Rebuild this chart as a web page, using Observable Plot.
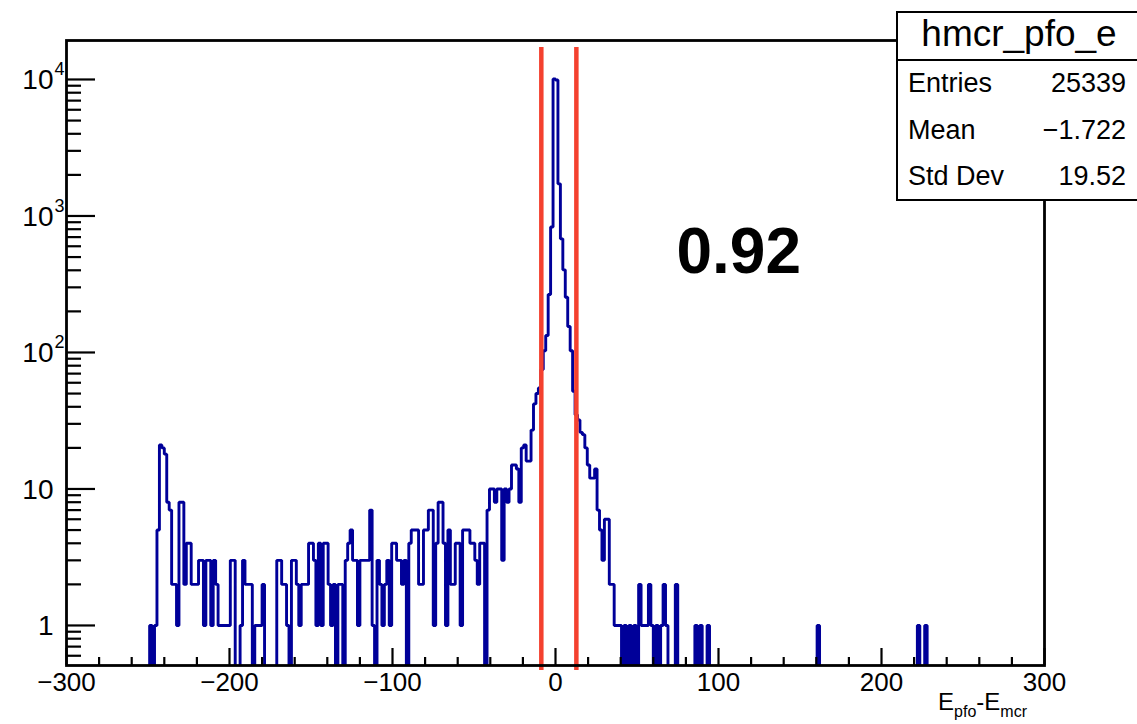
<!DOCTYPE html>
<html>
<head>
<meta charset="utf-8">
<script src="https://cdn.jsdelivr.net/npm/d3@7"></script>
<script src="https://cdn.jsdelivr.net/npm/@observablehq/plot@0.6"></script>
<style>
  html, body { margin: 0; padding: 0; background: #fff; }
  #wrap { position: relative; width: 1137px; height: 724px; overflow: hidden;
          font-family: "Liberation Sans", Arial, Helvetica, sans-serif; color: #000; }
  #chart svg { display: block; }
  .box { position: absolute; left: 896px; top: 11px; width: 260px; height: 190px;
         border: 2.5px solid #000; box-sizing: border-box; background: #fff; }
  .sep { position: absolute; left: 896px; top: 59px; width: 260px; border-top: 2.5px solid #000; }
  .st { position: absolute; line-height: 1; white-space: nowrap; }
  .xtitle { position: absolute; right: 110px; top: 690px; font-size: 24px; line-height: 1; white-space: nowrap; }
  .xtitle sub { font-size: 16px; vertical-align: -7px; line-height: 0; }
</style>
</head>
<body>
<div id="wrap">
  <div id="chart"></div>
</div>
<script>
// ---------------- data ----------------
const xMin = -300, xMax = 300;
const binWidth = 1.5;
const firstBinLow = -250.5;
// counts per bin, starting at firstBinLow, bin width 1.5
const counts = [
  0, 1, 0, 1, 5, 21, 20, 18, 8, 7,          // -250.5 .. -237
  2, 2, 1, 8, 8, 2, 4, 4, 2, 2,             // -235.5 .. -222
  2, 3, 3, 1, 3, 3, 1, 3, 2, 1,             // -220.5 .. -207
  1, 1, 1, 1, 3, 3, 0, 0, 1, 3,             // -205.5 .. -192
  2, 2, 2, 0, 1, 1, 1, 2, 0, 0,             // -190.5 .. -177
  0, 0, 0, 3, 3, 2, 2, 1, 0, 3,             // -175.5 .. -162
  3, 2, 1, 2, 2, 2, 4, 4, 3, 1,             // -160.5 .. -147
  4, 1, 4, 4, 2, 1, 2, 0, 2, 2,             // -145.5 .. -132
  0, 3, 4, 5, 3, 3, 1, 3, 3, 3,             // -130.5 .. -117
  3, 7, 1, 0, 3, 2, 1, 2, 3, 1,             // -115.5 .. -102
  4, 4, 3, 3, 2, 3, 0, 4, 5, 5,             // -100.5 .. -87
  5, 2, 2, 5, 5, 7, 7, 1, 4, 8,             // -85.5 .. -72
  8, 4, 1, 5, 2, 2, 4, 4, 1, 5,             // -70.5 .. -57
  5, 5, 4, 4, 3, 2, 4, 4, 0, 7,             // -55.5 .. -42
  10, 10, 8, 10, 10, 3, 10, 8, 10, 15,      // -40.5 .. -27
  15, 14, 8, 20, 21, 16, 16, 27, 42, 50,    // -25.5 .. -12
  55, 75, 103, 133, 266, 830, 10100, 9900, 1720, 680,  // -10.5 .. 3
  403, 254, 155, 103, 52, 35, 32, 26, 25, 20,          // 4.5 .. 18
  15, 12, 12, 14, 7, 5, 3, 6, 6, 2,         // 19.5 .. 33
  2, 1, 1, 1, 0, 1, 0, 1, 0, 1,             // 34.5 .. 48
  0, 2, 1, 1, 1, 2, 1, 0, 1, 0,             // 49.5 .. 63
  1, 2, 1, 0, 0, 0, 2, 0, 0, 0              // 64.5 .. 78
];
// isolated entries further right (bin low edge, count)
const sparseBins   = [85.5, 88.5, 93, 160.5, 222, 226.5];
const sparseCounts = [1, 1, 1, 1, 1, 1];

const cutLines = [-8.7, 12.8];
const cutLineSpan = [0.468, 17150];

const yDomain = [0.509, 19300];
const xMajorTicks = [-300, -200, -100, 0, 100, 200, 300];
const yMajorTicks = [1, 10, 100, 1000, 10000];
const yTickBase = ["1", "10", "10", "10", "10"];
const yTickSup  = ["", "", "2", "3", "4"];

const statsTitle = "hmcr_pfo_e";
const statsLabels = ["Entries", "Mean", "Std Dev"];
const statsValues = ["25339", "\u22121.722", "19.52"];
const ratioText = "0.92";
const ratioPos = [112.4, 540];

// ---------------- build ----------------
const W = 1137, H = 724;
const mT = 40, mR = 93, mB = 59, mL = 66;
const frameW = W - mL - mR, frameH = H - mT - mB;
const zeroFloor = 0.2;

const nBins = Math.round((xMax - xMin) / binWidth);
const full = new Array(nBins).fill(0);
const off = Math.round((firstBinLow - xMin) / binWidth);
counts.forEach((c, i) => { full[off + i] = c; });
sparseBins.forEach((b, i) => { full[Math.round((b - xMin) / binWidth)] = sparseCounts[i]; });
const outline = full.flatMap((c, i) => {
  const lo = xMin + i * binWidth;
  const y = c > 0 ? c : zeroFloor;
  return [{x: lo, y}, {x: lo + binWidth, y}];
});

const xMinorTicks = d3.range(-280, 300, 20).filter(v => v % 100 !== 0);
const yMinorTicks = [0.1, 1, 10, 100, 1000]
  .flatMap(d => [2, 3, 4, 5, 6, 7, 8, 9].map(k => k * d))
  .filter(v => v > yDomain[0] && v < yDomain[1]);

const fmt = d3.format("d");
const font = '"Liberation Sans", Arial, Helvetica, sans-serif';

const plot = Plot.plot({
  width: W, height: H,
  marginTop: mT, marginRight: mR, marginBottom: mB, marginLeft: mL,
  x: {domain: [xMin, xMax], axis: null},
  y: {type: "log", domain: yDomain, axis: null},
  style: {fontFamily: font, background: "white", color: "black", overflow: "visible"},
  marks: [
    Plot.line(outline, {x: "x", y: "y", stroke: "#000099", strokeWidth: 2.9,
                        strokeLinejoin: "miter", clip: true}),
    Plot.ruleX(cutLines, {x: d => d, y1: cutLineSpan[0], y2: cutLineSpan[1],
                          stroke: "#f4412f", strokeWidth: 4.5}),
    Plot.tickX(xMajorTicks, {x: d => d, insetTop: frameH - 17, stroke: "black", strokeWidth: 2.2}),
    Plot.tickX(xMinorTicks, {x: d => d, insetTop: frameH - 8, stroke: "black", strokeWidth: 2.2}),
    Plot.tickY(yMajorTicks, {y: d => d, insetRight: frameW - 29, stroke: "black", strokeWidth: 2.2}),
    Plot.tickY(yMinorTicks, {y: d => d, insetRight: frameW - 15, stroke: "black", strokeWidth: 2.2}),
    Plot.frame({stroke: "black", strokeWidth: 2.8}),
    Plot.text(xMajorTicks, {x: d => d, frameAnchor: "bottom", text: d => fmt(d),
                            dy: 7, lineAnchor: "top", fontSize: 26, fill: "black"}),
    Plot.text(yMajorTicks, {y: d => d, frameAnchor: "left", text: (d, i) => yTickBase[i],
                            textAnchor: "end", dx: -13, dy: 1, fontSize: 28, fill: "black"}),
    Plot.text(yMajorTicks, {y: d => d, frameAnchor: "left", text: (d, i) => yTickSup[i],
                            textAnchor: "start", dx: -12, dy: -10, fontSize: 18, fill: "black"}),
    Plot.text([ratioText], {x: () => ratioPos[0], y: () => ratioPos[1], text: d => d,
                            fontSize: 64, fontWeight: "bold", fill: "black"})
  ]
});
document.getElementById("chart").appendChild(plot);

// ---------------- stats box & axis title ----------------
const wrap = document.getElementById("wrap");
function add(tag, cls, text, css) {
  const el = document.createElement(tag);
  el.className = cls;
  if (text != null) el.textContent = text;
  Object.assign(el.style, css || {});
  wrap.appendChild(el);
  return el;
}
add("div", "box");
add("div", "sep");
add("span", "st", statsTitle, {fontSize: "37px", left: "1019px", top: "15px", transform: "translateX(-50%)"});
const baselines = [93, 139.5, 186];
statsLabels.forEach((t, i) => {
  add("span", "st", t, {fontSize: "27px", left: "908px", top: (baselines[i] - 22.9) + "px"});
  add("span", "st", statsValues[i], {fontSize: "27px", right: "11px", top: (baselines[i] - 22.9) + "px"});
});
const xt = add("div", "xtitle");
xt.innerHTML = "E<sub>pfo</sub>-E<sub>mcr</sub>";
</script>
</body>
</html>
